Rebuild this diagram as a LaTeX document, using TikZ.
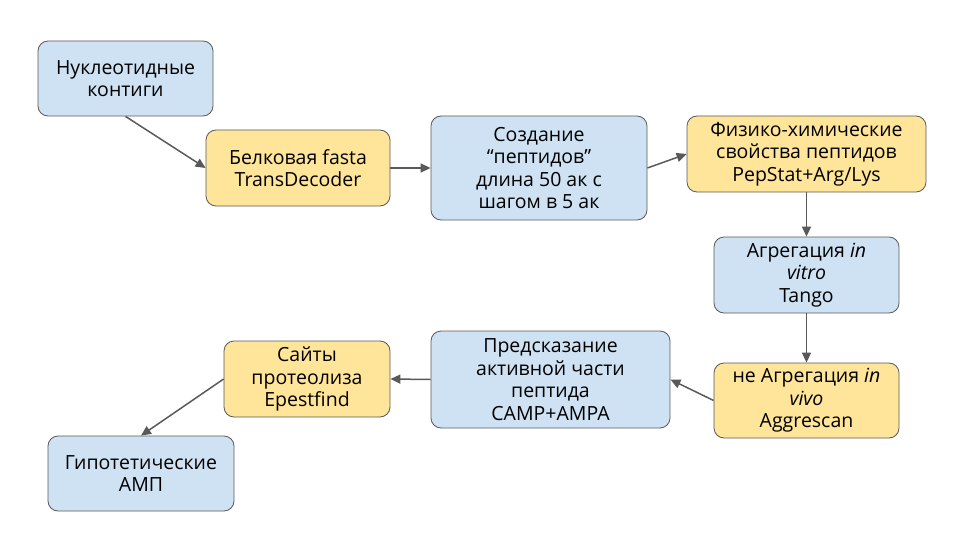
\documentclass[tikz,border=0pt]{standalone}
\usepackage{fontspec}
\setmainfont{Open Sans}
\usetikzlibrary{arrows.meta}
\definecolor{paleblue}{HTML}{CFE2F3}
\definecolor{paleyellow}{HTML}{FFE599}
\definecolor{edgegray}{HTML}{595959}

\begin{document}
\begin{tikzpicture}[x=1pt,y=-1pt,
    blok/.style={draw=edgegray, line width=0.8pt, rounded corners=10pt, align=center,
                 inner sep=0pt, font=\fontsize{19.5}{22.5}\selectfont},
    bluebox/.style={blok, fill=paleblue},
    yellowbox/.style={blok, fill=paleyellow},
    strelka/.style={draw=edgegray, line width=1.5pt, -{Triangle[length=10pt,width=9pt]}}]
    \useasboundingbox (0,0) rectangle (960,540);
    % upper row
    \node[bluebox,   minimum width=175pt, minimum height=75pt]  (kontigi)  at (125.5,78.5) {Нуклеотидные\\контиги};
    \node[yellowbox, minimum width=184pt, minimum height=76pt]  (fasta)    at (298,168)    {Белковая fasta\\TransDecoder};
    \node[bluebox,   minimum width=216pt, minimum height=104pt] (peptidy)  at (539,168)    {Создание\\“пептидов”\\длина 50 ак с\\шагом в 5 ак};
    \node[yellowbox, minimum width=239pt, minimum height=76pt]  (svoistva) at (806.5,154)  {Физико-химические\\свойства пептидов\\PepStat+Arg/Lys};
    % right column
    \node[bluebox,   minimum width=185pt, minimum height=76pt]  (vitro)    at (806.5,275)  {Агрегация \textit{in}\\\textit{vitro}\\Tango};
    \node[yellowbox, minimum width=185pt, minimum height=75pt]  (vivo)     at (806.5,400.5) {не Агрегация \textit{in}\\\textit{vivo}\\Aggrescan};
    % lower row
    \node[bluebox,   minimum width=239pt, minimum height=97pt]  (predskaz) at (550.5,379.5) {Предсказание\\активной части\\пептида\\CAMP+AMPA};
    \node[yellowbox, minimum width=166pt, minimum height=76pt]  (saity)    at (307,379)    {Сайты\\протеолиза\\Epestfind};
    \node[bluebox,   minimum width=186pt, minimum height=75pt]  (amp)      at (141,473.5)  {Гипотетические\\АМП};
    % arrows
    \draw[strelka] (kontigi.south) -- (fasta.west);
    \draw[strelka] (fasta.east) -- (peptidy.west);
    \draw[strelka] (peptidy.east) -- (svoistva.west);
    \draw[strelka] (svoistva.south) -- (vitro.north);
    \draw[strelka] (vitro.south) -- (vivo.north);
    \draw[strelka] (vivo.west) -- (predskaz.east);
    \draw[strelka] (predskaz.west) -- (saity.east);
    \draw[strelka] (saity.west) -- (amp.north);
\end{tikzpicture}
\end{document}
